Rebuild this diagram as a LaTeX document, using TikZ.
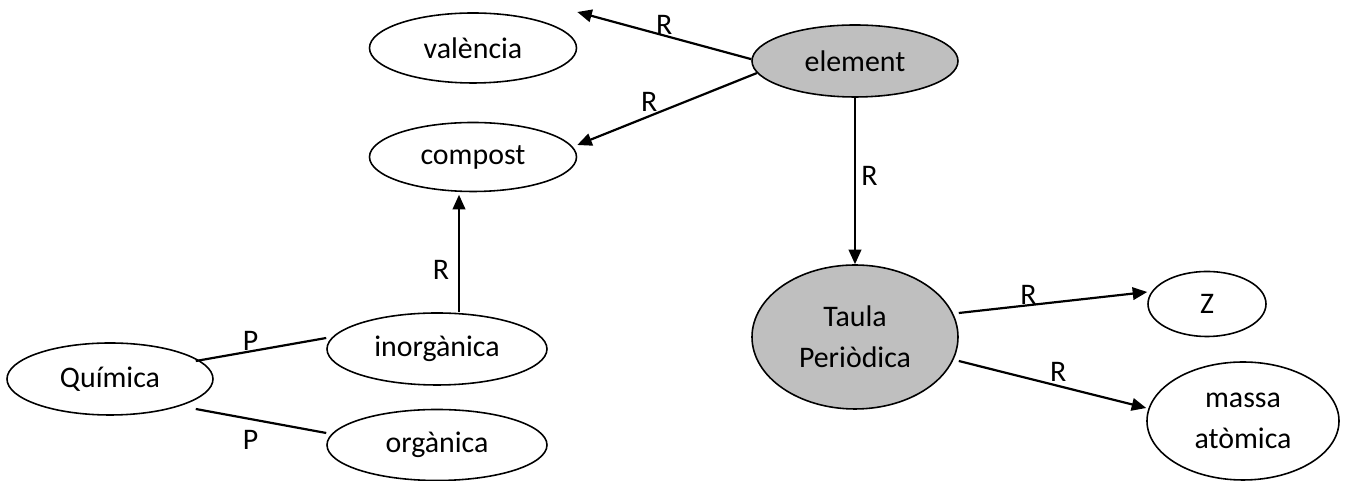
\documentclass[tikz,border=0pt]{standalone}
\usepackage{fontspec}
\setmainfont{Carlito}
\usetikzlibrary{arrows.meta, shapes.geometric, positioning}
\definecolor{keygray}{RGB}{191,191,191}

\begin{document}
\begin{tikzpicture}[
        concept/.style={ellipse, draw, line width=0.9pt, fill=white, inner sep=0pt, align=center, font=\fontsize{17}{23.5}\selectfont},
        keyconcept/.style={concept, fill=keygray},
        arr/.style={-{Triangle[length=0.29cm, width=0.25cm]}, line width=1.25pt},
        lnk/.style={line width=1.25pt},
        lbl/.style={font=\fontsize{17}{19}\selectfont, inner sep=0pt}
    ]
    \useasboundingbox (0,0) rectangle (26.92,9.62);

    % concepts
    \node[concept, minimum width=4.14cm, minimum height=1.40cm] (valencia) at (9.46,8.66) {valència};
    \node[concept, minimum width=4.14cm, minimum height=1.38cm] (compost) at (9.46,6.48) {compost};
    \node[keyconcept, minimum width=4.12cm, minimum height=1.44cm] (element) at (17.10,8.40) {element};
    \node[keyconcept, minimum width=4.12cm, minimum height=2.88cm] (taula) at (17.10,2.88) {Taula\\Periòdica};
    \node[concept, minimum width=2.36cm, minimum height=1.30cm] (zeta) at (24.14,3.54) {Z};
    \node[concept, minimum width=3.84cm, minimum height=2.36cm] (massa) at (24.86,1.20) {massa\\atòmica};
    \node[concept, minimum width=4.12cm, minimum height=1.44cm] (quimica) at (2.20,2.04) {Química};
    \node[concept, minimum width=4.40cm, minimum height=1.44cm] (inorganica) at (8.74,2.64) {inorgànica};
    \node[concept, minimum width=4.40cm, minimum height=1.42cm] (organica) at (8.74,0.72) {orgànica};

    % relations
    \draw[arr] (element.179) -- ([yshift=0.72cm]valencia.east)
        node[lbl, pos=0.5, above] {R};
    \draw[arr] (element.187) -- ([yshift=0.24cm]compost.east)
        node[lbl, pos=0.6, above=2pt] {R};
    \draw[arr] (element.south) -- (taula.north)
        node[lbl, pos=0.47, right=3pt] {R};
    \draw[arr] ([xshift=0.44cm]inorganica.north) -- ([xshift=-0.28cm, yshift=-0.05cm]compost.south)
        node[lbl, pos=0.36, left=5pt] {R};
    \draw[arr] ([yshift=0.48cm]taula.east) -- ([yshift=0.24cm]zeta.west)
        node[lbl, pos=0.37, above] {R};
    \draw[arr] ([yshift=-0.48cm]taula.east) -- ([yshift=0.26cm]massa.west)
        node[lbl, pos=0.53, above=2pt] {R};

    % parts
    \draw[lnk] ([shift={(-0.36,0.36)}]quimica.east) -- ([yshift=0.22cm]inorganica.west)
        node[lbl, pos=0.42, above] {P};
    \draw[lnk] ([shift={(-0.36,-0.60)}]quimica.east) -- ([yshift=0.24cm]organica.west)
        node[lbl, pos=0.42, below=6pt] {P};
\end{tikzpicture}
\end{document}
